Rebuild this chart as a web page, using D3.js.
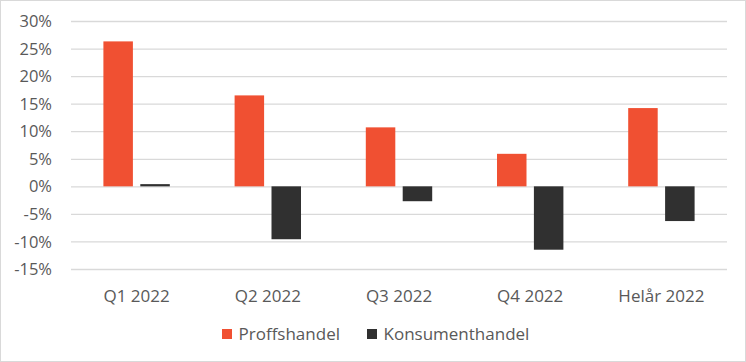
<!DOCTYPE html>
<html><head><meta charset="utf-8">
<script src="https://cdn.jsdelivr.net/npm/d3@7"></script>
<style>body{margin:0;background:#fff}svg{display:block}</style>
</head><body>
<svg id="c" width="746" height="362"></svg>
<script>
const categories = ["Q1 2022","Q2 2022","Q3 2022","Q4 2022","Helår 2022"];
const seriesNames = ["Proffshandel","Konsumenthandel"];
const proffshandel = [26.3, 16.5, 10.7, 5.9, 14.2];
const konsumenthandel = [0.4, -9.6, -2.7, -11.5, -6.3];
const yTicks = [-15,-10,-5,0,5,10,15,20,25,30];
const colors = ["#f05032","#303030"];

const svg = d3.select("#c");
const W = 746, H = 362;
const m = {l:71, r:19, t:21, b:93};
const font = "'Open Sans', 'Liberation Sans', sans-serif";

svg.append("rect").attr("x",0.5).attr("y",0.5).attr("width",W-1).attr("height",H-1)
  .attr("fill","#fff").attr("stroke","#d9d9d9");

const x = d3.scaleBand().domain(categories).range([m.l, W-m.r]);
const y = d3.scaleLinear().domain([-15,30]).range([269, 21]);

const g = svg.append("g");
const yAxis = d3.axisLeft(y).tickValues(yTicks).tickSize(-(W-m.r-m.l)).tickFormat(d=>d+"%");
const ya = g.append("g").attr("transform",`translate(${m.l},0)`).call(yAxis);
ya.select(".domain").remove();
ya.selectAll(".tick line").attr("stroke","#d9d9d9").attr("stroke-width",1.3);
ya.selectAll(".tick text").attr("x",-19).attr("dy","0.34em").attr("fill","#595959")
  .style("font-family",font).style("font-size","16.5px");

const bw = 29.5, gap = 7.4;
const data = [proffshandel, konsumenthandel];
data.forEach((vals,si)=>{
  g.selectAll(".b"+si).data(categories).enter().append("rect")
    .attr("x",(c)=> x(c)+x.bandwidth()/2 + (si===0 ? -gap/2-bw : gap/2))
    .attr("width",bw)
    .attr("y",(c,i)=> y(Math.max(0,vals[i])))
    .attr("height",(c,i)=> Math.abs(y(vals[i])-y(0)))
    .attr("fill",colors[si]);
});

const xAxis = d3.axisBottom(x).tickSize(0);
const xa = g.append("g").attr("transform",`translate(0,269)`).call(xAxis);
xa.select(".domain").remove();
xa.selectAll(".tick text").attr("dy","0").attr("y",32.5).attr("fill","#595959")
  .style("font-family",font).style("font-size","17px");

// legend
const leg = svg.append("g");
const legX = [222, 367];
seriesNames.forEach((n,i)=>{
  leg.append("rect").attr("x",legX[i]).attr("y",329).attr("width",10).attr("height",10).attr("fill",colors[i]);
  leg.append("text").attr("x",legX[i]+16.5).attr("y",340).text(n).attr("fill","#595959")
    .style("font-family",font).style("font-size","17px");
});
</script>
</body></html>
